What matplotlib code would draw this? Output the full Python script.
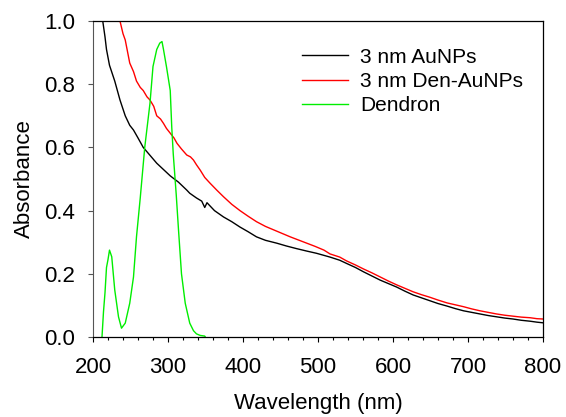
import matplotlib
matplotlib.use("Agg")
import matplotlib.pyplot as plt
from matplotlib.ticker import MultipleLocator

plt.rcParams["font.family"] = ["Liberation Sans", "DejaVu Sans"]

# values
wl_aunp = [213, 216, 218, 222, 229, 236, 243, 249, 254, 260, 267, 276, 285, 294, 303,
           314, 325, 329, 338, 345, 349, 352, 362, 374, 385, 396, 407, 418, 430, 445,
           458, 471, 485, 498, 516, 529, 538, 550, 561, 572, 583, 594, 605, 616, 627,
           638, 649, 660, 672, 683, 694, 705, 716, 727, 738, 749, 760, 771, 783, 792, 800]
abs_aunp = [1.00, 0.95, 0.91, 0.86, 0.81, 0.75, 0.70, 0.67, 0.655, 0.63, 0.60, 0.575, 0.55, 0.53, 0.51,
            0.49, 0.465, 0.455, 0.44, 0.43, 0.41, 0.425, 0.40, 0.38, 0.365, 0.348, 0.333, 0.317, 0.306, 0.297,
            0.288, 0.28, 0.272, 0.265, 0.253, 0.243, 0.233, 0.22, 0.206, 0.193, 0.18, 0.169, 0.158, 0.145, 0.133,
            0.124, 0.115, 0.106, 0.098, 0.09, 0.083, 0.078, 0.073, 0.068, 0.064, 0.06, 0.057, 0.053, 0.05, 0.047, 0.045]

wl_den = [236, 240, 243, 249, 254, 258, 263, 267, 272, 276, 281, 285, 290, 294, 298,
          303, 308, 312, 318, 325, 330, 334, 338, 343, 349, 356, 365, 374, 385, 396,
          407, 418, 430, 441, 452, 463, 474, 485, 496, 508, 516, 529, 538, 550, 561,
          572, 583, 594, 605, 616, 627, 638, 649, 660, 672, 683, 694, 705, 716, 727,
          738, 749, 760, 771, 783, 792, 800]
abs_den = [1.00, 0.96, 0.94, 0.867, 0.84, 0.81, 0.79, 0.78, 0.76, 0.75, 0.73, 0.70, 0.69, 0.676, 0.66,
           0.645, 0.63, 0.613, 0.595, 0.576, 0.57, 0.56, 0.545, 0.528, 0.505, 0.487, 0.465, 0.444, 0.42, 0.40,
           0.382, 0.365, 0.35, 0.339, 0.328, 0.317, 0.307, 0.297, 0.287, 0.275, 0.263, 0.253, 0.241, 0.228, 0.215,
           0.203, 0.19, 0.177, 0.165, 0.154, 0.143, 0.134, 0.126, 0.117, 0.108, 0.102, 0.096, 0.089, 0.083, 0.078,
           0.073, 0.069, 0.066, 0.063, 0.061, 0.058, 0.057]

wl_dendron = [212, 214, 216, 218, 220, 222, 225, 229, 234, 238, 243, 249, 254, 258, 263,
              269, 276, 280, 285, 289, 292, 294, 298, 303, 305, 307, 311, 314, 318, 323,
              329, 334, 338, 343, 349, 352]
abs_dendron = [0.0, 0.08, 0.14, 0.22, 0.245, 0.275, 0.254, 0.149, 0.064, 0.028, 0.044, 0.107, 0.19, 0.317, 0.44,
               0.60, 0.74, 0.856, 0.91, 0.93, 0.935, 0.91, 0.855, 0.78, 0.665, 0.58, 0.45, 0.34, 0.20, 0.107,
               0.044, 0.02, 0.01, 0.005, 0.003, -0.01]

series_labels = ["3 nm AuNPs", "3 nm Den-AuNPs", "Dendron"]

fig = plt.figure(figsize=(5.66, 4.17), dpi=100)
ax = fig.add_axes([0.1643, 0.1918, 0.795, 0.7578])

ax.plot(wl_aunp, abs_aunp, color="black", lw=1.0, label=series_labels[0])
ax.plot(wl_den, abs_den, color="#ff0000", lw=1.0, label=series_labels[1])
ax.plot(wl_dendron, abs_dendron, color="#00ee00", lw=1.0, label=series_labels[2])

ax.set_xlim(200, 800)
ax.set_ylim(0, 1.0)
ax.xaxis.set_major_locator(MultipleLocator(100))
ax.xaxis.set_minor_locator(MultipleLocator(20))
ax.yaxis.set_major_locator(MultipleLocator(0.2))
ax.yaxis.set_major_formatter(plt.FormatStrFormatter("%.1f"))

ax.tick_params(axis="both", which="major", direction="out", length=3.6, width=0.8,
               labelsize=16)
ax.tick_params(axis="x", which="major", pad=10.5)
ax.tick_params(axis="y", which="major", pad=9)
ax.tick_params(axis="x", which="minor", direction="out", length=2.2, width=0.8)
for side in ["top", "right", "bottom"]:
    ax.spines[side].set_linewidth(0.9)
ax.spines["left"].set_color("#555555")
ax.tick_params(axis="y", colors="#555555", labelcolor="black")

ax.set_xlabel("Wavelength (nm)", fontsize=16, labelpad=11)
ax.set_ylabel("Absorbance", fontsize=16, labelpad=7)

ax.legend(loc="upper left", bbox_to_anchor=(0.447, 0.942), frameon=False, fontsize=15,
          handlelength=2.2, handletextpad=0.55, labelspacing=0.25, borderaxespad=0)

fig.savefig("out.png", dpi=100)
